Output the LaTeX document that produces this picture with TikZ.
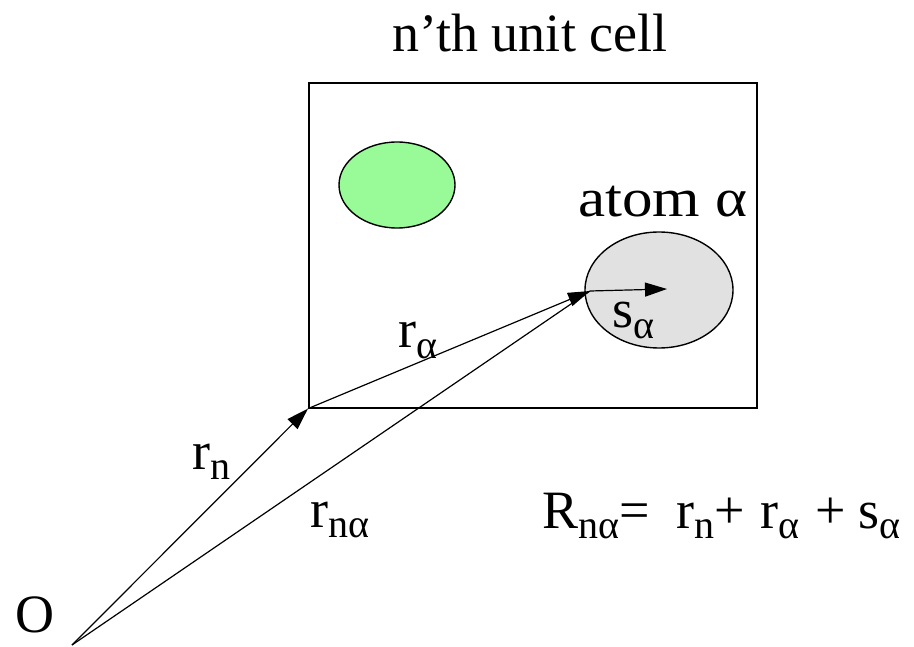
\documentclass[tikz,border=0pt]{standalone}
\usepackage{fontspec}
\setmainfont{Liberation Serif}
\usetikzlibrary{arrows.meta,shapes.geometric}
\definecolor{atomgreen}{RGB}{152,251,152}
\definecolor{atomgray}{RGB}{225,225,225}
\newcommand\subs[1]{\raisebox{-0.2em}{\fontsize{40}{40}\selectfont #1}}
\newcommand\labbig{\fontsize{54}{60}\selectfont}
\tikzset{
  vec/.style={line width=1.2pt},
  tip/.style={-{Triangle[length=22pt,width=14pt]}},
  cellbox/.style={draw, line width=1.6pt, minimum width=448pt, minimum height=325pt, anchor=north west, inner sep=0pt},
  blob/.style={ellipse, draw, line width=1.4pt, inner sep=0pt},
  lab/.style={inner sep=0pt, font=\labbig},
}
\begin{document}
\begin{tikzpicture}[x=1pt,y=-1pt]
\useasboundingbox (0,0) rectangle (914,647);
\node[cellbox] (cell) at (308,82) {};
\node[blob, fill=atomgreen, minimum width=116pt, minimum height=86pt] (green) at (397,185) {};
\node[blob, fill=atomgray, minimum width=148pt, minimum height=116pt] (gray) at (659,290) {};
\coordinate (O) at (72,645);
\coordinate (C) at (cell.south west);
\coordinate (A) at (590,291);
\coordinate (S) at (667,289);
\draw[vec,tip] (O) -- (C);
\draw[vec,tip] (C) -- (A);
\draw[vec] (O) -- (A);
\draw[vec,tip] (A) -- (S);
\node[lab, anchor=base] (title) at (530,52) {n’th unit cell};
\node[lab, anchor=base west] (atom) at (578,217) {\scalebox{1.13}[1]{atom α}};
\node[lab, anchor=base west] (ra) at (398,348) {r\subs{α}};
\node[lab, anchor=base west] (sa) at (612,328) {s\subs{α}};
\node[lab, anchor=base west] (rn) at (192,469) {r\subs{n}};
\node[lab, anchor=base west] (rna) at (310,527) {r\subs{nα}};
\node[lab, anchor=base] (Olab) at (35,632) {O};
\node[lab, anchor=base west] (formula) at (542,528) {R\subs{nα}=\ \ r\subs{n}+\hspace{2pt} r\subs{α}\hspace{2pt} + s\subs{α}};
\end{tikzpicture}
\end{document}
